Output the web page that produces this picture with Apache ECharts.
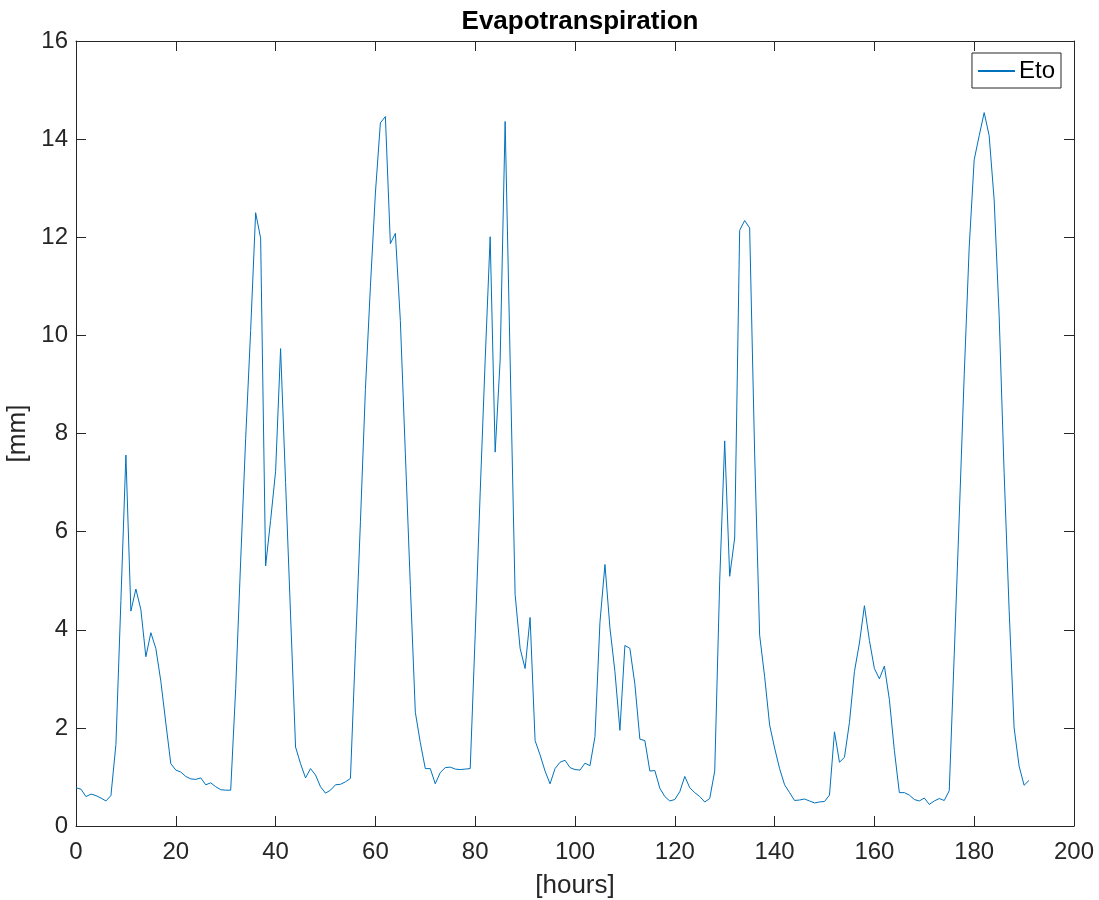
<!DOCTYPE html>
<html>
<head>
<meta charset="utf-8">
<title>Evapotranspiration</title>
<script src="https://cdn.jsdelivr.net/npm/echarts@6/dist/echarts.min.js"></script>
<style>
  html, body { margin: 0; padding: 0; background: #fff; }
  #chart { width: 1099px; height: 900px; }
</style>
</head>
<body>
<div id="chart"></div>
<script>
// hourly Eto values [mm], hour 0..191
const eto = [
  0.78, 0.75, 0.60, 0.65, 0.62, 0.57, 0.51, 0.62, 1.66, 4.60,
  7.56, 4.38, 4.83, 4.41, 3.45, 3.94, 3.62, 2.95, 2.10, 1.27,
  1.14, 1.10, 1.01, 0.96, 0.95, 0.98, 0.84, 0.88, 0.80, 0.74,
  0.73, 0.73, 2.80, 5.40, 7.90, 10.10, 12.50, 11.98, 5.30, 6.23,
  7.23, 9.73, 7.00, 4.30, 1.61, 1.27, 0.98, 1.17, 1.04, 0.80,
  0.67, 0.73, 0.84, 0.85, 0.90, 0.97, 3.60, 6.20, 8.90, 11.00,
  12.90, 14.33, 14.46, 11.87, 12.08, 10.30, 7.60, 4.90, 2.32, 1.70,
  1.17, 1.17, 0.86, 1.09, 1.19, 1.20, 1.16, 1.15, 1.16, 1.17,
  3.90, 6.80, 9.50, 12.01, 7.62, 9.50, 14.36, 9.50, 4.72, 3.62,
  3.21, 4.25, 1.74, 1.45, 1.12, 0.86, 1.17, 1.30, 1.34, 1.19,
  1.15, 1.14, 1.28, 1.23, 1.82, 4.15, 5.33, 4.04, 3.15, 1.95,
  3.68, 3.62, 2.89, 1.77, 1.74, 1.12, 1.13, 0.77, 0.60, 0.51,
  0.54, 0.70, 1.01, 0.78, 0.68, 0.60, 0.49, 0.56, 1.12, 5.00,
  7.85, 5.09, 5.87, 12.14, 12.34, 12.19, 7.60, 3.89, 3.05, 2.06,
  1.59, 1.17, 0.84, 0.68, 0.52, 0.53, 0.55, 0.51, 0.47, 0.49,
  0.50, 0.63, 1.92, 1.30, 1.40, 2.11, 3.15, 3.73, 4.49, 3.78,
  3.21, 3.00, 3.26, 2.58, 1.54, 0.68, 0.68, 0.63, 0.54, 0.51,
  0.57, 0.44, 0.51, 0.56, 0.52, 0.72, 3.50, 6.30, 9.20, 11.80,
  13.58, 14.07, 14.54, 14.07, 12.76, 10.40, 7.20, 4.40, 2.00, 1.22,
  0.83, 0.93
]

const xRange = [0, 200]
const yRange = [0, 16]

const axisColor = '#262626'
const lineColor = '#0072BD'
const fontFamily = 'Liberation Sans, Helvetica, Arial, sans-serif'

const points = eto.map((v, i) => [i, v])

function baseAxis(extra) {
  return Object.assign({
    type: 'value',
    axisLine: { show: true, onZero: false, lineStyle: { color: axisColor, width: 1 } },
    axisTick: { show: true, inside: true, length: 10, lineStyle: { color: axisColor, width: 1 } },
    splitLine: { show: false }
  }, extra)
}

const chart = echarts.init(document.getElementById('chart'), null, { renderer: 'canvas' })

chart.setOption({
  animation: false,
  backgroundColor: '#fff',
  textStyle: { fontFamily },
  title: {
    text: 'Evapotranspiration',
    left: 575,
    textAlign: 'center',
    top: 4,
    textStyle: { fontSize: 26, fontWeight: 'bold', color: '#000', fontFamily }
  },
  grid: { left: 76, right: 25, top: 41, bottom: 74, containLabel: false, outerBoundsMode: 'none' },
  legend: {
    data: ['Eto'],
    right: 38,
    top: 53,
    orient: 'vertical',
    backgroundColor: '#fff',
    borderColor: axisColor,
    borderWidth: 1,
    borderRadius: 0,
    padding: [6, 6, 5, 5],
    itemWidth: 37,
    itemHeight: 2,
    itemGap: 4,
    textStyle: { fontSize: 24, color: '#000', fontFamily, padding: [0, 0, 0, -1] }
  },
  xAxis: [
    baseAxis({
      min: xRange[0], max: xRange[1], interval: 20,
      name: '[hours]', nameLocation: 'middle', nameGap: 47,
      nameTextStyle: { fontSize: 26, color: axisColor, fontFamily },
      axisLabel: { fontSize: 24, color: axisColor, margin: 14, fontFamily }
    }),
    baseAxis({
      min: xRange[0], max: xRange[1], interval: 20, position: 'top',
      axisLabel: { show: false }
    })
  ],
  yAxis: [
    baseAxis({
      min: yRange[0], max: yRange[1], interval: 2,
      name: '[mm]', nameLocation: 'middle', nameGap: 39, nameRotate: 90,
      nameTextStyle: { fontSize: 26, color: axisColor, fontFamily },
      axisLabel: { fontSize: 24, color: axisColor, margin: 8, fontFamily }
    }),
    baseAxis({
      min: yRange[0], max: yRange[1], interval: 2, position: 'right',
      axisLabel: { show: false }
    })
  ],
  series: [{
    name: 'Eto',
    type: 'line',
    data: points,
    symbol: 'none',
    lineStyle: { color: lineColor, width: 1 },
    itemStyle: { color: lineColor }
  }]
})
</script>
</body>
</html>
